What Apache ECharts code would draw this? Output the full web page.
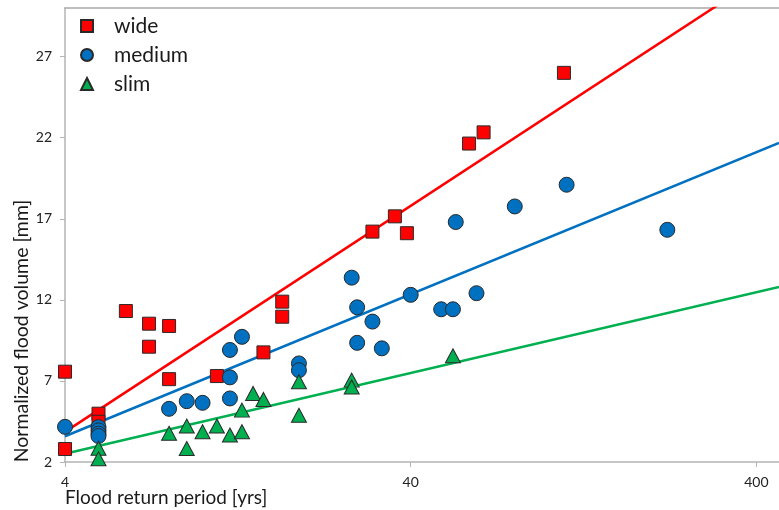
<!DOCTYPE html>
<html>
<head>
<meta charset="utf-8">
<script src="https://cdn.jsdelivr.net/npm/echarts@6/dist/echarts.min.js"></script>
<style>
  html, body { margin: 0; padding: 0; background: #fff; }
  #chart { width: 779px; height: 510px; }
</style>
</head>
<body>
<div id="chart"></div>
<script>
// ---- data ----
const xTicks = [4, 40, 400];
const yTicks = [2, 7, 12, 17, 22, 27];

const wideX = [4, 4, 5, 5, 6, 7, 7, 8, 8, 11, 15, 17, 17, 31, 36, 39, 59, 65, 111];
const wideY = [7.57, 2.8, 4.98, 4.48, 11.31, 10.53, 9.11, 10.39, 7.11, 7.30, 8.76, 11.89, 10.96, 16.21, 17.15, 16.11, 21.64, 22.33, 26.0];

const mediumX = [4, 5, 5, 5, 5, 8, 9, 10, 12, 13, 12, 12, 19, 19, 27, 28, 31, 28, 33, 40, 49, 53, 62, 54, 80, 113, 221];
const mediumY = [4.17, 4.15, 3.95, 3.75, 3.6, 5.28, 5.75, 5.65, 8.91, 9.72, 7.22, 5.92, 8.08, 7.66, 13.37, 11.54, 10.66, 9.35, 9.01, 12.31, 11.42, 11.42, 12.41, 16.80, 17.76, 19.10, 16.32];

const slimX = [5, 5, 8, 9, 9, 10, 11, 12, 13, 13, 14, 15, 19, 19, 27, 27, 53];
const slimY = [2.85, 2.2, 3.77, 4.22, 2.83, 3.87, 4.22, 3.66, 3.87, 5.2, 6.23, 5.86, 6.95, 4.88, 7.05, 6.63, 8.55];

const trendX = [4, 465];
const wideTrendY = [3.86, 32.65];
const mediumTrendY = [3.59, 21.68];
const slimTrendY = [2.51, 12.8];

const zip = (xs, ys) => xs.map((x, i) => [x, ys[i]]);

const FONT = 'Lato, "Open Sans", sans-serif';
const AXIS_GRAY = '#b4b4b4';
const BORDER = '#2a2a2a';

const chart = echarts.init(document.getElementById('chart'), null, { renderer: 'canvas' });

const option = {
  animation: false,
  backgroundColor: '#ffffff',
  textStyle: { fontFamily: FONT },
  grid: { left: 65, right: 0, top: 8, bottom: 48 },
  legend: {
    data: ['wide', 'medium', 'slim'],
    orient: 'vertical',
    left: 75,
    top: 9,
    itemWidth: 12,
    itemHeight: 12,
    itemGap: 5,
    textStyle: { fontFamily: FONT, fontSize: 21, color: '#1a1a1a', padding: [0, 0, 0, 16], lineHeight: 24 }
  },
  xAxis: [{
    type: 'log',
    logBase: 10,
    min: 4,
    max: 465,
    axisLine: { show: true, lineStyle: { color: AXIS_GRAY, width: 1.5 } },
    axisTick: { show: true, length: 5, lineStyle: { color: AXIS_GRAY }, customValues: xTicks },
    axisLabel: {
      customValues: xTicks,
      formatter: v => String(Math.round(v)),
      color: '#222', fontSize: 14, fontFamily: FONT, margin: 13
    },
    splitLine: { show: false },
    minorTick: { show: false }
  }, {
    type: 'value',
    position: 'top',
    min: 0, max: 1,
    axisLine: { show: true, onZero: false, lineStyle: { color: '#a8a8a8', width: 1.5 } },
    axisTick: { show: false },
    axisLabel: { show: false },
    splitLine: { show: false }
  }],
  yAxis: {
    type: 'value',
    min: 2,
    max: 30,
    axisLine: { show: true, lineStyle: { color: AXIS_GRAY, width: 1.5 } },
    axisTick: { show: true, length: 5, lineStyle: { color: AXIS_GRAY }, customValues: yTicks },
    axisLabel: { customValues: yTicks, color: '#222', fontSize: 14, fontFamily: FONT, margin: 13 },
    splitLine: { show: false }
  },
  graphic: [
    {
      type: 'text',
      left: 65,
      top: 488,
      style: { text: 'Flood return period [yrs]', font: '19px ' + FONT, fill: '#1a1a1a' }
    },
    {
      type: 'text',
      x: 22,
      y: 331,
      rotation: Math.PI / 2,
      style: {
        text: 'Normalized flood volume [mm]', font: '19.5px ' + FONT, fill: '#1a1a1a',
        align: 'center', verticalAlign: 'middle'
      }
    }
  ],
  series: [
    {
      name: 'wideTrend', type: 'line', data: zip(trendX, wideTrendY), showSymbol: false, symbol: 'none',
      lineStyle: { color: '#ff0000', width: 2.5 }, clip: true, z: 1, silent: true
    },
    {
      name: 'mediumTrend', type: 'line', data: zip(trendX, mediumTrendY), showSymbol: false, symbol: 'none',
      lineStyle: { color: '#0070c0', width: 2.5 }, clip: true, z: 1, silent: true
    },
    {
      name: 'slimTrend', type: 'line', data: zip(trendX, slimTrendY), showSymbol: false, symbol: 'none',
      lineStyle: { color: '#00b050', width: 2.5 }, clip: true, z: 1, silent: true
    },
    {
      name: 'wide', type: 'scatter', data: zip(wideX, wideY), symbol: 'rect', symbolSize: 13,
      itemStyle: { color: '#ff0000', borderColor: BORDER, borderWidth: 1, opacity: 1 }, z: 3
    },
    {
      name: 'medium', type: 'scatter', data: zip(mediumX, mediumY), symbol: 'circle', symbolSize: 15,
      itemStyle: { color: '#0070c0', borderColor: BORDER, borderWidth: 1, opacity: 1 }, z: 3
    },
    {
      name: 'slim', type: 'scatter', data: zip(slimX, slimY), symbol: 'triangle', symbolSize: [15, 14],
      itemStyle: { color: '#00b050', borderColor: BORDER, borderWidth: 1, opacity: 1 }, z: 3
    }
  ]
};

chart.setOption(option);
</script>
</body>
</html>
